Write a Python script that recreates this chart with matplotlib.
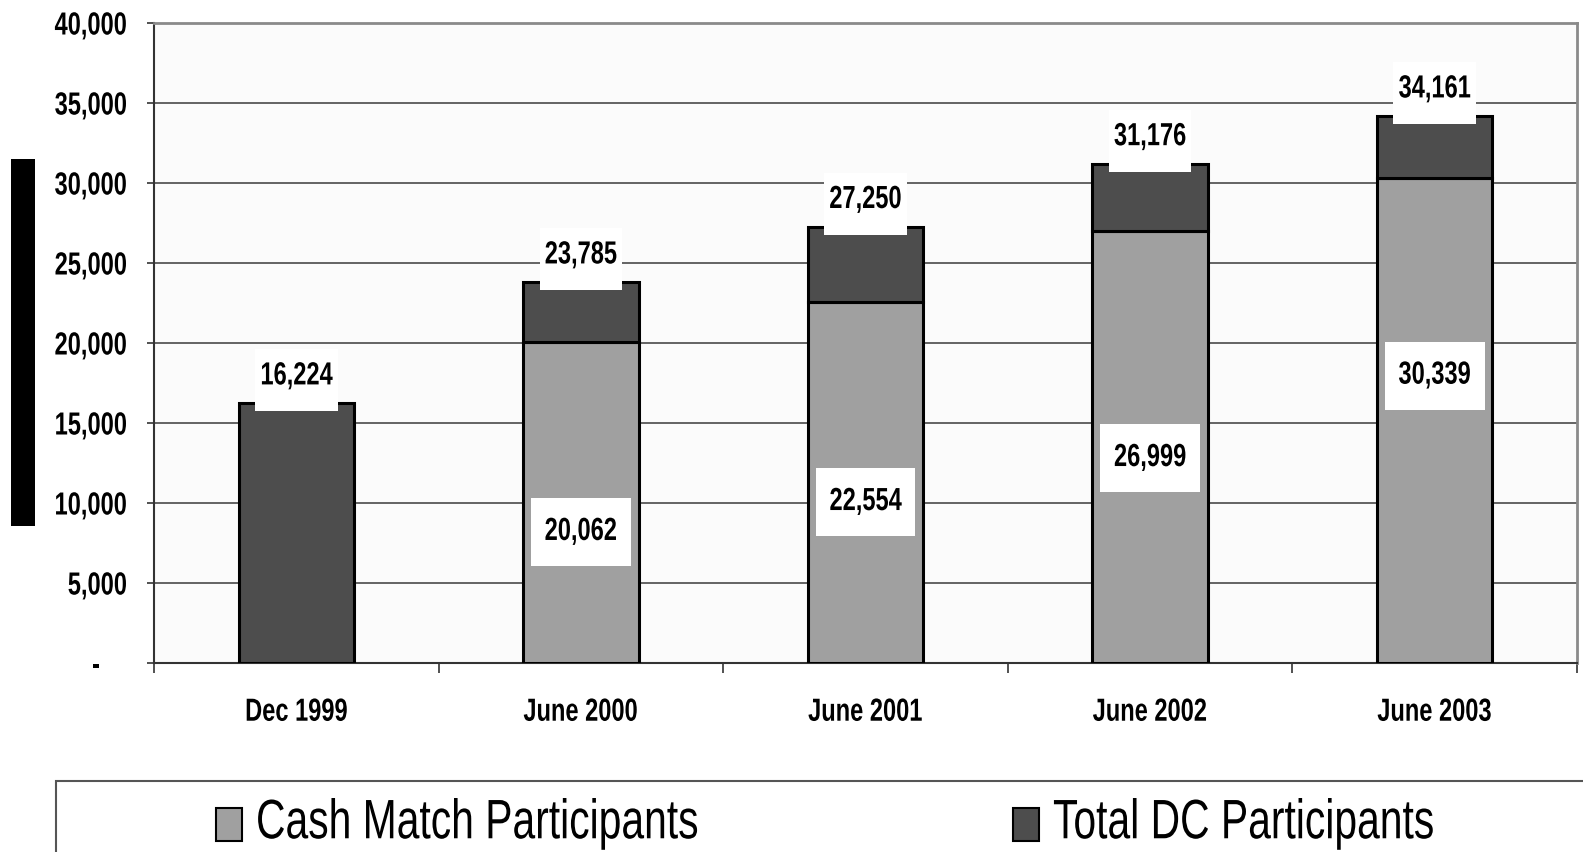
import matplotlib
matplotlib.use("Agg")
import matplotlib.pyplot as plt
from matplotlib.patches import Rectangle, Patch
from matplotlib.patheffects import AbstractPathEffect
from matplotlib.transforms import Affine2D
from matplotlib.ticker import FuncFormatter, FixedLocator
import numpy as np

# data
periods = ["Dec 1999", "June 2000", "June 2001", "June 2002", "June 2003"]
total_dc = [16224, 23785, 27250, 31176, 34161]
cash_match = [0, 20062, 22554, 26999, 30339]

# layout only: where the cash match labels sit (data units)
cash_label_y = [None, 8190, 10060, 12810, 17960]

plt.rcParams["font.family"] = ["Liberation Sans", "DejaVu Sans"]

LIGHT = "#a0a0a0"
DARK = "#4d4d4d"
SQ = 0.74  # the original uses a narrow face, squeeze glyphs to match


class Squeeze(AbstractPathEffect):
    """Rescale text glyphs around its left/centre/right edge (baseline fixed)."""

    def __init__(self, sx=SQ, sy=1.0, anchor="center", dx=0):
        super().__init__()
        self.sx, self.sy, self.anchor, self.dx = sx, sy, anchor, dx

    def draw_path(self, renderer, gc, tpath, affine, rgbFace=None):
        ext = tpath.get_extents()
        cx = {"left": ext.x0, "right": ext.x1}.get(self.anchor, (ext.x0 + ext.x1) / 2)
        t = Affine2D().translate(-cx, 0).scale(self.sx, self.sy).translate(cx, 0) + affine
        t = t + Affine2D().translate(self.dx, 0)
        renderer.draw_path(gc, tpath, t, rgbFace)


fig = plt.figure(figsize=(15.83, 8.53), dpi=100)
ax = fig.add_axes([154 / 1583, 1 - 664 / 853, (1577 - 154) / 1583, (664 - 24) / 853])
ax.set_facecolor("#fbfbfb")

x = np.arange(len(periods))
width = 0.405
upper = [t - c for t, c in zip(total_dc, cash_match)]

ax.bar(x, cash_match, width, color=LIGHT, edgecolor="black", linewidth=2.2, zorder=3)
ax.bar(x, upper, width, bottom=cash_match, color=DARK, edgecolor="black", linewidth=2.2, zorder=3)

ax.set_xlim(-0.5, len(periods) - 0.5)
ax.set_ylim(0, 40000)
ax.set_yticks(np.arange(0, 40001, 5000))
ax.yaxis.set_major_formatter(FuncFormatter(lambda v, p: "-" if v == 0 else f"{v:,.0f}"))
ax.grid(axis="y", color="#4a4a4a", linewidth=1.2, zorder=0)
ax.set_axisbelow(True)

ax.set_xticks(x)
ax.set_xticklabels(periods)
ax.xaxis.set_minor_locator(FixedLocator(np.arange(-0.5, len(periods), 1)))
ax.tick_params(axis="x", which="major", length=0, pad=25, labelsize=23)
ax.tick_params(axis="x", which="minor", length=7, width=1.2, color="#333333")
ax.tick_params(axis="y", length=5, width=1.2, color="#333333", pad=14, labelsize=23)
for lab in ax.get_xticklabels():
    lab.set_fontweight("bold")
    lab.set_path_effects([Squeeze(anchor="center")])
for i, lab in enumerate(ax.get_yticklabels()):
    lab.set_fontweight("bold")
    lab.set_path_effects([Squeeze(anchor="right", dx=-27 if i == 0 else 0)])

for s in ["left", "bottom"]:
    ax.spines[s].set_color("#333333")
    ax.spines[s].set_linewidth(1.5)
for s in ["top", "right"]:
    ax.spines[s].set_color("#8a8a8a")
    ax.spines[s].set_linewidth(2)

# data labels with white boxes
px = 40000 / 640  # data units per pixel
for i, (t, c) in enumerate(zip(total_dc, cash_match)):
    ax.add_patch(Rectangle((i - 0.145, t - 8 * px), 0.29, 62 * px,
                           facecolor="white", edgecolor="none", zorder=4))
    ax.text(i, t + 27 * px, f"{t:,}", ha="center", va="center", fontsize=23,
            fontweight="bold", zorder=5, path_effects=[Squeeze()])
    if c:
        yc = cash_label_y[i]
        ax.add_patch(Rectangle((i - 0.175, yc - 34 * px), 0.35, 68 * px,
                               facecolor="white", edgecolor="none", zorder=4))
        ax.text(i, yc, f"{c:,}", ha="center", va="center", fontsize=23,
                fontweight="bold", zorder=5, path_effects=[Squeeze()])

# black block at the left edge
fig.patches.append(Rectangle((11 / 1583, 1 - 527 / 853), 24 / 1583, 367 / 853,
                             transform=fig.transFigure, facecolor="black",
                             edgecolor="none"))

# legend frame running off the page
fig.patches.append(Rectangle((55.5 / 1583, -0.1), 1.0, 0.1 + 1 - 782 / 853,
                             transform=fig.transFigure, facecolor="white",
                             edgecolor="#555555", linewidth=1.5))

# legend laid out at the narrow width, glyphs stretched back up to full height
LEG_FS = 29.4
legend_kw = dict(loc="center left", frameon=False, fontsize=LEG_FS, borderpad=0,
                 borderaxespad=0, handlelength=0.64, handleheight=0.86,
                 handletextpad=0.34)
leg1 = fig.legend([Patch(facecolor=LIGHT, edgecolor="black", linewidth=1.5)],
                  ["Cash Match Participants"], bbox_to_anchor=(216 / 1583, 1 - 828 / 853),
                  **legend_kw)
leg2 = fig.legend([Patch(facecolor=DARK, edgecolor="black", linewidth=1.5)],
                  ["Total DC Participants"], bbox_to_anchor=(1013 / 1583, 1 - 828 / 853),
                  **legend_kw)
for leg in (leg1, leg2):
    for t in leg.get_texts():
        t.set_path_effects([Squeeze(sx=1.0, sy=40 / LEG_FS, anchor="left")])

fig.savefig("out.png", dpi=100)
